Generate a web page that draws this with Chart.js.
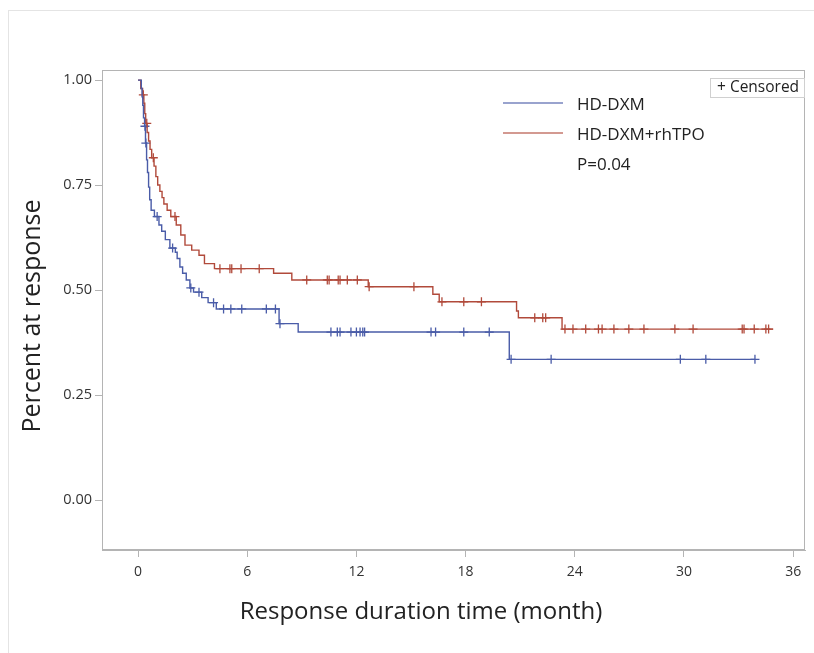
<!DOCTYPE html>
<html>
<head>
<meta charset="utf-8">
<script src="https://cdn.jsdelivr.net/npm/chart.js@4.4.1/dist/chart.umd.min.js"></script>
<style>
  html, body { margin: 0; padding: 0; background: #fff; }
  #wrap { position: relative; width: 814px; height: 653px; }
</style>
</head>
<body>
<div id="wrap"><canvas id="km" width="814" height="653"></canvas></div>
<script>
// Kaplan-Meier steps (month, proportion still in response)
const dxmTimes = [0, 0.18, 0.22, 0.26, 0.3, 0.36, 0.41, 0.47, 0.52, 0.58, 0.64, 0.72, 0.9, 1.15, 1.3, 1.5, 1.75, 2.05, 2.15, 2.3, 2.45, 2.65, 2.85, 3.05, 3.5, 3.85, 4.3, 7.75, 8.8, 20.4, 33.9];
const dxmSurv  = [1.0, 0.98, 0.96, 0.94, 0.91, 0.89, 0.85, 0.81, 0.78, 0.745, 0.715, 0.69, 0.675, 0.655, 0.64, 0.62, 0.60, 0.59, 0.575, 0.555, 0.54, 0.524, 0.505, 0.495, 0.482, 0.47, 0.455, 0.42, 0.40, 0.335, 0.335];
const dxmCensored = [0.38, 0.43, 1.05, 1.9, 2.9, 3.35, 4.15, 4.7, 5.1, 5.7, 7.05, 7.55, 7.8, 10.6, 10.95, 11.1, 11.7, 12.0, 12.2, 12.35, 12.45, 16.1, 16.35, 17.9, 19.3, 20.5, 22.7, 29.8, 31.2, 33.9];

const tpoTimes = [0, 0.15, 0.25, 0.32, 0.37, 0.42, 0.5, 0.58, 0.66, 0.75, 0.88, 0.98, 1.08, 1.2, 1.32, 1.42, 1.6, 1.8, 2.1, 2.35, 2.58, 2.95, 3.35, 3.65, 4.2, 7.45, 8.45, 12.65, 16.2, 16.55, 20.8, 20.9, 23.3, 34.9];
const tpoSurv  = [1.0, 0.98, 0.965, 0.945, 0.92, 0.897, 0.875, 0.855, 0.835, 0.815, 0.795, 0.77, 0.75, 0.735, 0.72, 0.705, 0.69, 0.675, 0.655, 0.631, 0.607, 0.595, 0.583, 0.563, 0.551, 0.54, 0.524, 0.508, 0.49, 0.472, 0.45, 0.434, 0.407, 0.407];
const tpoCensored = [0.29, 0.48, 0.84, 2.03, 4.5, 5.05, 5.15, 5.66, 6.66, 9.27, 10.4, 10.5, 11.0, 11.1, 11.5, 12.05, 12.7, 15.16, 16.7, 17.9, 18.87, 21.8, 22.24, 22.4, 23.46, 23.9, 24.6, 25.3, 25.5, 26.15, 26.97, 27.8, 29.5, 30.5, 33.2, 33.3, 33.86, 34.5, 34.65];

const groupNames = ['HD-DXM', 'HD-DXM+rhTPO'];
const pValueText = 'P=0.04';
const xTitle = 'Response duration time (month)';
const yTitle = 'Percent at response';
const xTicks = [0, 6, 12, 18, 24, 30, 36];
const yTicks = [0, 0.25, 0.5, 0.75, 1.0];

const BLUE = '#4a5ca8';
const RED = '#b14a3b';
const AXIS = '#b4b4b4';
const FONT = "'Open Sans', 'Noto Sans', sans-serif";

// value of a step curve at time t (used to sit the censor marks on their curve)
function stepValue(times, surv, t) {
    let v = surv[0];
    for (let i = 0; i < times.length; i++) {
        if (times[i] <= t) v = surv[i];
    }
    return v;
}

function toPoints(times, surv) {
    return times.map((t, i) => ({ x: t, y: surv[i] }));
}

function censorPoints(list, times, surv) {
    return list.map(t => ({ x: t, y: stepValue(times, surv, t) }));
}

// frame round the plot, outer panel line, axis titles and the legend
const decorPlugin = {
    id: 'decor',
    beforeDraw(chart) {
        const ctx = chart.ctx;
        ctx.save();
        ctx.strokeStyle = '#e4e4e4';
        ctx.lineWidth = 1;
        ctx.strokeRect(8.5, 10.5, 830, 660);
        ctx.restore();
    },
    afterDraw(chart) {
        const ctx = chart.ctx;
        const a = chart.chartArea;
        ctx.save();
        ctx.strokeStyle = AXIS;
        ctx.lineWidth = 1;
        ctx.strokeRect(Math.round(a.left) + 0.5, Math.round(a.top) + 0.5,
                       Math.round(a.right - a.left) - 1, Math.round(a.bottom - a.top) - 1);

        // axis titles
        ctx.fillStyle = '#222';
        ctx.textAlign = 'center';
        ctx.textBaseline = 'middle';
        ctx.font = '24px ' + FONT;
        ctx.fillText(xTitle, 421, 612);
        ctx.save();
        ctx.translate(33, 316);
        ctx.rotate(-Math.PI / 2);
        ctx.font = '25px ' + FONT;
        ctx.fillText(yTitle, 0, 0);
        ctx.restore();

        // censored box
        ctx.textAlign = 'left';
        ctx.strokeStyle = '#d0d0d0';
        ctx.strokeRect(710.5, 78.5, 94, 19);
        ctx.font = '15.5px ' + FONT;
        ctx.fillText('+ Censored', 717, 88);

        // group legend
        ctx.font = '17px ' + FONT;
        [[BLUE, 103], [RED, 133]].forEach((item, i) => {
            ctx.strokeStyle = item[0];
            ctx.globalAlpha = 0.75;
            ctx.lineWidth = 1.5;
            ctx.beginPath();
            ctx.moveTo(503, item[1]);
            ctx.lineTo(563, item[1]);
            ctx.stroke();
            ctx.globalAlpha = 1;
            ctx.fillStyle = '#222';
            ctx.fillText(groupNames[i], 577, item[1] + 2);
        });
        ctx.fillText(pValueText, 577, 165);
        ctx.restore();
    }
};

const ctx = document.getElementById('km').getContext('2d');
const kmChart = new Chart(ctx, {
    type: 'line',
    data: {
        datasets: [
            {
                label: groupNames[0],
                data: toPoints(dxmTimes, dxmSurv),
                stepped: 'before',
                borderColor: BLUE,
                borderWidth: 1.4,
                pointRadius: 0,
                fill: false
            },
            {
                label: groupNames[1],
                data: toPoints(tpoTimes, tpoSurv),
                stepped: 'before',
                borderColor: RED,
                borderWidth: 1.4,
                pointRadius: 0,
                fill: false
            },
            {
                label: groupNames[0] + ' censored',
                data: censorPoints(dxmCensored, dxmTimes, dxmSurv),
                showLine: false,
                pointStyle: 'cross',
                pointRadius: 4.5,
                pointBorderWidth: 1.3,
                borderColor: BLUE,
                pointBorderColor: BLUE
            },
            {
                label: groupNames[1] + ' censored',
                data: censorPoints(tpoCensored, tpoTimes, tpoSurv),
                showLine: false,
                pointStyle: 'cross',
                pointRadius: 4.5,
                pointBorderWidth: 1.3,
                borderColor: RED,
                pointBorderColor: RED
            }
        ]
    },
    options: {
        responsive: false,
        animation: false,
        layout: { padding: { top: 70, right: 9, left: 0, bottom: 0 } },
        plugins: {
            legend: { display: false },
            tooltip: { enabled: false }
        },
        scales: {
            x: {
                type: 'linear',
                min: -1.98,
                max: 36.65,
                afterBuildTicks(scale) {
                    scale.ticks = xTicks.map(v => ({ value: v }));
                },
                afterFit(scale) { scale.height = 103; },
                grid: { drawOnChartArea: false, drawTicks: true, tickLength: 7, color: AXIS },
                border: { display: true, color: AXIS },
                ticks: { font: { size: 14, family: FONT }, color: '#333', padding: 7, maxRotation: 0 },
                title: { display: false }
            },
            y: {
                min: -0.119,
                max: 1.024,
                afterBuildTicks(scale) {
                    scale.ticks = yTicks.map(v => ({ value: v }));
                },
                afterFit(scale) { scale.width = 102; },
                grid: { drawOnChartArea: false, drawTicks: true, tickLength: 7, color: AXIS },
                border: { display: true, color: AXIS },
                ticks: {
                    font: { size: 14.5, family: FONT },
                    color: '#333',
                    padding: 3,
                    callback: v => v.toFixed(2)
                },
                title: { display: false }
            }
        }
    },
    plugins: [decorPlugin]
});
</script>
</body>
</html>
